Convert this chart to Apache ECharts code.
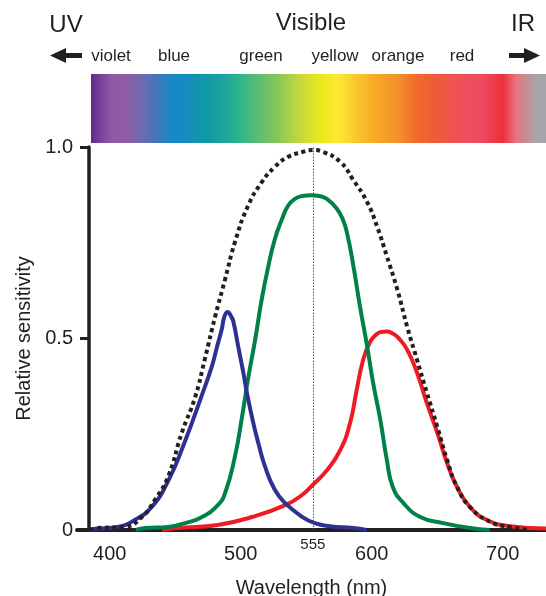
<!DOCTYPE html>
<html>
<head>
<meta charset="utf-8">
<script src="https://cdn.jsdelivr.net/npm/echarts@6/dist/echarts.min.js"></script>
<style>
  html, body { margin: 0; padding: 0; background: #fff; }
  #chart { width: 546px; height: 596px; }
</style>
</head>
<body>
<div id="chart"></div>
<script>
  // cone curves, wavelength (nm) and relative sensitivity
  const blueNm = [385, 389, 406, 419, 432, 445, 457, 470, 478, 482, 485.5, 487.5, 490, 492.6, 494.3, 498, 502, 505, 509.6, 513.4, 518.5, 526, 534, 546.5, 556.5, 568, 586, 596];
  const blueVal = [0, 0.003, 0.008, 0.026, 0.06, 0.131, 0.228, 0.349, 0.428, 0.48, 0.524, 0.557, 0.569, 0.558, 0.545, 0.48, 0.41, 0.353, 0.279, 0.227, 0.166, 0.105, 0.07, 0.035, 0.018, 0.01, 0.005, 0];

  const greenNm = [420, 427, 444.5, 457.5, 470.5, 482.5, 488, 495.5, 501, 505.5, 511, 516, 521, 526, 531.5, 536, 541, 547, 553.5, 560, 566, 573.5, 578, 581, 585.5, 591, 596.5, 601, 606.5, 611.5, 616, 624, 637, 654.5, 675, 690];
  const greenVal = [0, 0.005, 0.008, 0.018, 0.034, 0.065, 0.096, 0.191, 0.296, 0.393, 0.497, 0.602, 0.688, 0.759, 0.812, 0.846, 0.864, 0.872, 0.874, 0.872, 0.864, 0.838, 0.81, 0.777, 0.699, 0.584, 0.479, 0.385, 0.288, 0.183, 0.113, 0.071, 0.034, 0.018, 0.005, 0];

  const redNm = [440, 452, 482.5, 508.5, 534, 547, 555, 566, 576, 583.5, 588.5, 593.5, 598.5, 603, 607, 611.5, 616, 620, 627, 634.5, 642, 650, 657.5, 665, 675, 688, 705.5, 733];
  const redVal = [0, 0.005, 0.013, 0.034, 0.065, 0.092, 0.118, 0.157, 0.209, 0.28, 0.366, 0.445, 0.49, 0.509, 0.517, 0.518, 0.513, 0.503, 0.471, 0.411, 0.332, 0.254, 0.175, 0.113, 0.06, 0.026, 0.01, 0.004];

  // overall (dotted) curve
  const allNm = [385, 391, 411.5, 424.5, 434.5, 444.5, 455, 465, 472.5, 480.5, 488, 495.5, 505.5, 516, 526, 536, 547, 555, 563, 576, 585.5, 596.5, 604, 611.5, 619.5, 627, 634.5, 642, 650, 657.5, 665, 675, 690.5, 705.5, 720];
  const allVal = [0, 0.005, 0.008, 0.034, 0.079, 0.139, 0.254, 0.345, 0.445, 0.558, 0.654, 0.751, 0.846, 0.908, 0.948, 0.974, 0.987, 0.992, 0.987, 0.961, 0.916, 0.856, 0.793, 0.715, 0.628, 0.531, 0.445, 0.359, 0.27, 0.183, 0.113, 0.06, 0.021, 0.008, 0];

  const xTicks = [400, 500, 600, 700];
  const peakNm = 555;
  const bandNames = ['violet', 'blue', 'green', 'yellow', 'orange', 'red'];
  const bandX = [111, 174, 261, 335, 398, 462];

  const ink = '#231f20';
  const font = '"Liberation Sans", Arial, Helvetica, sans-serif';

  const zip = (a, b) => a.map((v, i) => [v, b[i]]);

  // spectrum strip colours (left -> right)
  const spectrum = [
    [0, '#5b2a86'], [0.02, '#7a3f98'], [0.046, '#8e59a6'], [0.079, '#8f5ca7'],
    [0.116, '#6b6cb0'], [0.145, '#4177b9'], [0.176, '#1b87c9'], [0.2, '#1689c6'],
    [0.248, '#0f98a8'], [0.286, '#19a29f'], [0.323, '#2bb28e'], [0.367, '#5bbd72'],
    [0.404, '#7ec55c'], [0.448, '#b8d445'], [0.486, '#dde32b'], [0.514, '#f0e81d'],
    [0.543, '#fde936'], [0.589, '#fbc22c'], [0.624, '#f8a925'], [0.677, '#f38f2b'],
    [0.714, '#f26b2b'], [0.758, '#ef5a3b'], [0.818, '#ef505a'], [0.862, '#ec4a60'],
    [0.905, '#ef2e3b'], [0.934, '#e6747e'], [0.98, '#a9a4aa'], [1, '#a6a4a9']
  ].map(s => ({ offset: s[0], color: s[1] }));

  const txt = (x, y, text, size) => ({
    type: 'text', x: x, y: y,
    style: { text: text, fontSize: size, fontFamily: font, fill: ink, align: 'center', verticalAlign: 'middle' }
  });

  const graphics = [
    { type: 'rect', shape: { x: 91, y: 74, width: 455, height: 69 },
      style: { fill: new echarts.graphic.LinearGradient(0, 0, 1, 0, spectrum) } },
    txt(66, 25, 'UV', 24),
    txt(311, 23, 'Visible', 24),
    txt(523, 24, 'IR', 24),
    // arrows
    { type: 'polygon', shape: { points: [[50, 55.5], [66, 48], [66, 53], [82, 53], [82, 58], [66, 58], [66, 63]] }, style: { fill: ink } },
    { type: 'polygon', shape: { points: [[540, 55.5], [524, 48], [524, 53], [509, 53], [509, 58], [524, 58], [524, 63]] }, style: { fill: ink } }
  ];
  bandNames.forEach((n, i) => graphics.push(txt(bandX[i], 56, n, 17)));

  const line = (data, color) => ({
    type: 'line', data: data, showSymbol: false, smooth: true, z: 3,
    lineStyle: { color: color, width: 4 }
  });

  const chart = echarts.init(document.getElementById('chart'));
  chart.setOption({
    animation: false,
    textStyle: { fontFamily: font },
    grid: { left: 77, right: 0, top: 147, bottom: 66, outerBoundsMode: 'none' },
    graphic: graphics,
    xAxis: [
      {
        type: 'value', min: 375, max: 733,
        name: 'Wavelength (nm)', nameLocation: 'middle', nameGap: 48,
        nameTextStyle: { fontSize: 20, color: ink, fontFamily: font },
        axisLine: { onZero: false, lineStyle: { color: ink, width: 4 } },
        axisTick: { show: false },
        axisLabel: { customValues: xTicks, fontSize: 20, color: ink, margin: 14 },
        splitLine: { show: false }
      },
      {
        type: 'value', min: 375, max: 733, position: 'bottom',
        axisLine: { show: false }, axisTick: { show: false }, splitLine: { show: false },
        axisLabel: { customValues: [peakNm], fontSize: 15, color: ink, margin: 7 }
      }
    ],
    yAxis: {
      type: 'value', min: 0, max: 1, interval: 0.5, offset: -12,
      name: 'Relative sensitivity', nameLocation: 'middle', nameGap: 53,
      nameTextStyle: { fontSize: 20, color: ink, fontFamily: font },
      axisLine: { show: true, onZero: false, lineStyle: { color: ink, width: 3.5 } },
      axisTick: { show: true, length: 9, lineStyle: { color: ink, width: 3 } },
      axisLabel: { fontSize: 20, color: ink, margin: 16, formatter: v => (v === 0 ? '0' : v.toFixed(1)) },
      splitLine: { show: false }
    },
    series: [
      line(zip(redNm, redVal), '#ed1c24'),
      line(zip(greenNm, greenVal), '#00814a'),
      line(zip(blueNm, blueVal), '#2e3192'),
      {
        type: 'line', data: zip(allNm, allVal), showSymbol: false, smooth: true, z: 4,
        lineStyle: { color: ink, width: 4, type: [4, 3.5], cap: 'butt' },
        markLine: {
          silent: true, symbol: 'none', label: { show: false },
          lineStyle: { color: '#555', type: [1.5, 1.5], width: 1 },
          data: [{ xAxis: peakNm }]
        }
      }
    ]
  });
</script>
</body>
</html>
